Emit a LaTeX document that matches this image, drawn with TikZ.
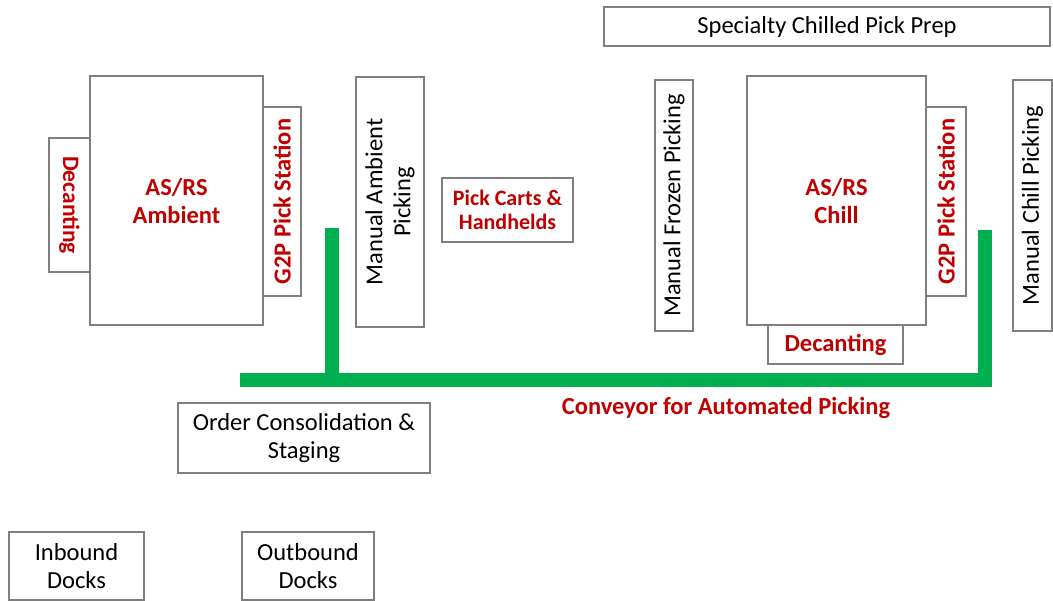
\documentclass[tikz,border=0pt]{standalone}
\usepackage{fontspec}
\setmainfont{Carlito}
\definecolor{boxgray}{HTML}{7F7F7F}
\definecolor{darkred}{HTML}{C00000}
\definecolor{convgreen}{HTML}{00B050}
\tikzset{
  area/.style={draw=boxgray, line width=1.2pt, fill=white, inner sep=0pt, align=center,
    font=\fontsize{24.5}{28}\selectfont, text=black},
  wh/.style 2 args={minimum width=#1pt, minimum height=#2pt},
  redtxt/.style={text=darkred, font=\fontsize{24.5}{28}\selectfont\bfseries},
  smallred/.style={text=darkred, font=\fontsize{22}{24}\selectfont\bfseries},
  plaintxt/.style={align=center, font=\fontsize{24.5}{28}\selectfont},
  conveyor/.style={draw=convgreen, line width=14pt, line cap=butt, line join=miter}
}
\begin{document}
\begin{tikzpicture}[x=1pt,y=-1pt]
\useasboundingbox (0,0) rectangle (1053,601);
% top band
\node[area, wh={446}{39}] (spec) at (827,26.5) {Specialty Chilled Pick Prep};
% ambient side
\node[area, wh={41}{134}] (decA) at (69.5,205) {};
\node[redtxt, font=\fontsize{23.5}{28}\selectfont\bfseries, rotate=-90] (decAt) at (decA.center) {Decanting};
\node[area, wh={38}{189}] (g2pA) at (282,201.5) {};
\node[redtxt, rotate=90] (g2pAt) at (g2pA.center) {G2P Pick Station};
\node[area, wh={173}{249}, redtxt] (asrsA) at (176.5,200.5) {AS/RS\\Ambient};
\node[area, wh={68}{250}] (manA) at (390,202) {};
\node[plaintxt, rotate=90] (manAt) at (manA.center) {Manual Ambient\\Picking};
\node[area, wh={131}{64}, smallred] (carts) at (507.5,210) {Pick Carts \&\\Handhelds};
% chill side
\node[area, wh={38}{251}] (frozen) at (674,205.5) {};
\node[plaintxt, rotate=90] (frozent) at (frozen.center) {Manual Frozen Picking};
\node[area, wh={40}{189}] (g2pC) at (946,201.5) {};
\node[redtxt, rotate=90] (g2pCt) at (g2pC.center) {G2P Pick Station};
\node[area, wh={135}{39}, redtxt] (decC) at (835.5,344.5) {Decanting};
\node[area, wh={179}{249}, redtxt] (asrsC) at (836.5,200.5) {AS/RS\\Chill};
\node[area, wh={39}{251}] (chill) at (1032.5,205.5) {};
\node[plaintxt, rotate=90] (chillt) at (chill.center) {Manual Chill Picking};
% lower part
\node[area, wh={252}{70}] (order) at (304,438) {Order Consolidation \&\\Staging};
\node[area, wh={135}{68}] (inb) at (76.5,566) {Inbound\\Docks};
\node[area, wh={132}{68}] (outb) at (308,566) {Outbound\\Docks};
% conveyor
\coordinate (cStart) at (240,380);
\coordinate (cJoin) at (331.5,380);
\coordinate (cLeftTop) at (331.5,228);
\coordinate (cCorner) at (984.5,380);
\coordinate (cRightTop) at (984.5,230);
\draw[conveyor] (cStart) -- (cCorner) -- (cRightTop);
\draw[conveyor] (cJoin) -- (cLeftTop);
\node[redtxt] (convlabel) at (726,408) {Conveyor for Automated Picking};
\end{tikzpicture}
\end{document}
